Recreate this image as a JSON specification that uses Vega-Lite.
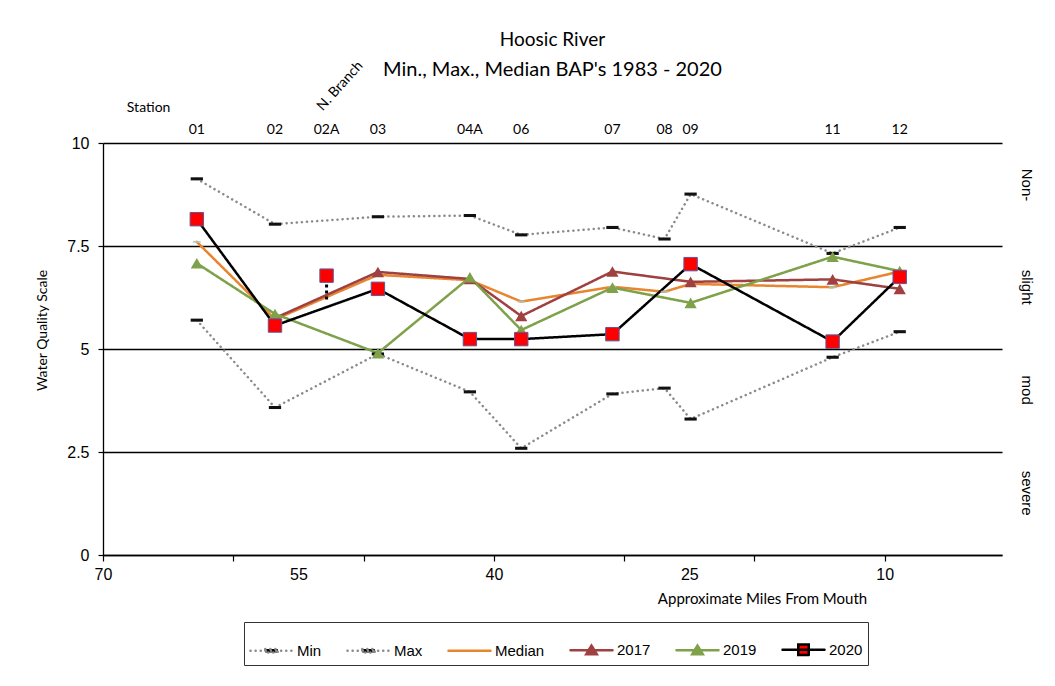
{
  "$schema": "https://vega.github.io/schema/vega-lite/v6.json",
  "width": 899,
  "height": 412,
  "autosize": {"type": "none"},
  "padding": {"left": 103, "top": 143, "right": 53, "bottom": 131},
  "background": "white",
  "config": {"view": {"stroke": null}},
  "title": {
    "text": "Hoosic River",
    "subtitle": "Min., Max., Median BAP's 1983 - 2020",
    "font": "Lato", "fontSize": 19, "fontWeight": "normal", "color": "black",
    "subtitleFont": "Lato", "subtitleFontSize": 20, "subtitleColor": "black",
    "anchor": "middle", "frame": "group", "offset": -21, "subtitlePadding": 10
  },
  "datasets": {
    "vals": [
      {"station": "01", "mile": 62.8, "series": "Min", "value": 5.70},
      {"station": "02", "mile": 56.8, "series": "Min", "value": 3.58},
      {"station": "03", "mile": 48.9, "series": "Min", "value": 4.88},
      {"station": "04A", "mile": 41.84, "series": "Min", "value": 3.96},
      {"station": "06", "mile": 37.9, "series": "Min", "value": 2.59},
      {"station": "07", "mile": 30.9, "series": "Min", "value": 3.91},
      {"station": "08", "mile": 26.9, "series": "Min", "value": 4.05},
      {"station": "09", "mile": 24.9, "series": "Min", "value": 3.30},
      {"station": "11", "mile": 14.0, "series": "Min", "value": 4.80},
      {"station": "12", "mile": 8.85, "series": "Min", "value": 5.42},
      {"station": "01", "mile": 62.8, "series": "Max", "value": 9.13},
      {"station": "02", "mile": 56.8, "series": "Max", "value": 8.03},
      {"station": "03", "mile": 48.9, "series": "Max", "value": 8.21},
      {"station": "04A", "mile": 41.84, "series": "Max", "value": 8.24},
      {"station": "06", "mile": 37.9, "series": "Max", "value": 7.77},
      {"station": "07", "mile": 30.9, "series": "Max", "value": 7.95},
      {"station": "08", "mile": 26.9, "series": "Max", "value": 7.67},
      {"station": "09", "mile": 24.9, "series": "Max", "value": 8.76},
      {"station": "11", "mile": 14.0, "series": "Max", "value": 7.32},
      {"station": "12", "mile": 8.85, "series": "Max", "value": 7.95},
      {"station": "01", "mile": 62.8, "series": "Median", "value": 7.60},
      {"station": "02", "mile": 56.8, "series": "Median", "value": 5.72},
      {"station": "03", "mile": 48.9, "series": "Median", "value": 6.80},
      {"station": "04A", "mile": 41.84, "series": "Median", "value": 6.67},
      {"station": "06", "mile": 37.9, "series": "Median", "value": 6.15},
      {"station": "07", "mile": 30.9, "series": "Median", "value": 6.51},
      {"station": "08", "mile": 26.9, "series": "Median", "value": 6.39},
      {"station": "09", "mile": 24.9, "series": "Median", "value": 6.58},
      {"station": "11", "mile": 14.0, "series": "Median", "value": 6.50},
      {"station": "12", "mile": 8.85, "series": "Median", "value": 6.88},
      {"station": "02", "mile": 56.8, "series": "2017", "value": 5.75},
      {"station": "03", "mile": 48.9, "series": "2017", "value": 6.87},
      {"station": "04A", "mile": 41.84, "series": "2017", "value": 6.70},
      {"station": "06", "mile": 37.9, "series": "2017", "value": 5.80},
      {"station": "07", "mile": 30.9, "series": "2017", "value": 6.88},
      {"station": "09", "mile": 24.9, "series": "2017", "value": 6.63},
      {"station": "11", "mile": 14.0, "series": "2017", "value": 6.69},
      {"station": "12", "mile": 8.85, "series": "2017", "value": 6.46},
      {"station": "01", "mile": 62.8, "series": "2019", "value": 7.08},
      {"station": "02", "mile": 56.8, "series": "2019", "value": 5.85},
      {"station": "03", "mile": 48.9, "series": "2019", "value": 4.90},
      {"station": "04A", "mile": 41.84, "series": "2019", "value": 6.74},
      {"station": "06", "mile": 37.9, "series": "2019", "value": 5.46},
      {"station": "07", "mile": 30.9, "series": "2019", "value": 6.49},
      {"station": "09", "mile": 24.9, "series": "2019", "value": 6.12},
      {"station": "11", "mile": 14.0, "series": "2019", "value": 7.24},
      {"station": "12", "mile": 8.85, "series": "2019", "value": 6.89},
      {"station": "01", "mile": 62.8, "series": "2020", "value": 8.15},
      {"station": "02", "mile": 56.8, "series": "2020", "value": 5.57},
      {"station": "03", "mile": 48.9, "series": "2020", "value": 6.46},
      {"station": "04A", "mile": 41.84, "series": "2020", "value": 5.24},
      {"station": "06", "mile": 37.9, "series": "2020", "value": 5.24},
      {"station": "07", "mile": 30.9, "series": "2020", "value": 5.36},
      {"station": "09", "mile": 24.9, "series": "2020", "value": 7.06},
      {"station": "11", "mile": 14.0, "series": "2020", "value": 5.18},
      {"station": "12", "mile": 8.85, "series": "2020", "value": 6.75}
    ],
    "nbranch": [
      {"station": "02A", "mile": 52.84, "low": 6.2, "high": 6.78, "value2020": 6.78}
    ],
    "stations": [
      {"station": "01", "mile": 62.8},
      {"station": "02", "mile": 56.8},
      {"station": "02A", "mile": 52.84},
      {"station": "03", "mile": 48.9},
      {"station": "04A", "mile": 41.84},
      {"station": "06", "mile": 37.9},
      {"station": "07", "mile": 30.9},
      {"station": "08", "mile": 26.9},
      {"station": "09", "mile": 24.9},
      {"station": "11", "mile": 14.0},
      {"station": "12", "mile": 8.85}
    ],
    "bands": [
      {"label": "Non-", "level": 8.98},
      {"label": "slight", "level": 6.5},
      {"label": "mod", "level": 4.0},
      {"label": "severe", "level": 1.5}
    ]
  },
  "layer": [
    {
      "data": {"name": "vals"},
      "mark": {"type": "line", "strokeCap": "round", "strokeJoin": "round"},
      "encoding": {
        "x": {
          "field": "mile", "type": "quantitative",
          "scale": {"domain": [70, 1], "nice": false, "zero": false},
          "axis": {
            "values": [70, 60, 55, 50, 40, 30, 25, 20, 10],
            "labelExpr": "indexof([70, 55, 40, 25, 10], datum.value) >= 0 ? datum.label : ''",
            "tickColor": {"condition": {"test": "datum.value == 55 || datum.value == 25", "value": "transparent"}, "value": "black"},
            "tickSize": 6, "tickWidth": 1.2,
            "domainColor": "black", "domainWidth": 1.5,
            "grid": false, "labelFont": "Liberation Sans", "labelFontSize": 16, "labelColor": "black",
            "labelPadding": 5, "labelOverlap": false, "labelBound": false, "labelFlush": false,
            "title": "Approximate Miles From Mouth", "titleFont": "Lato", "titleFontSize": 15,
            "titleFontWeight": "normal", "titleColor": "black",
            "titleX": 659, "titleY": 43, "titleAnchor": "middle", "titleAlign": "center", "titleBaseline": "middle"
          }
        },
        "y": {
          "field": "value", "type": "quantitative",
          "scale": {"domain": [0, 10], "nice": false},
          "axis": {
            "values": [0, 2.5, 5, 7.5, 10], "format": ".1~f",
            "grid": true, "gridColor": "black", "gridWidth": 1.3, "gridOpacity": 1,
            "domainColor": "black", "domainWidth": 1.3,
            "tickColor": "black", "tickSize": 5, "tickWidth": 1.2,
            "labelFont": "Liberation Sans", "labelFontSize": 16, "labelColor": "black", "labelPadding": 9,
            "labelFlush": false, "labelBound": false,
            "title": "Water Quality Scale", "titleFont": "Lato", "titleFontSize": 14,
            "titleFontWeight": "normal", "titleColor": "black",
            "titleX": -61, "titleY": 187, "titleAngle": -90, "titleAlign": "center", "titleBaseline": "middle"
          }
        },
        "detail": {"field": "series"},
        "color": {
          "field": "series", "type": "nominal",
          "scale": {
            "domain": ["Min", "Max", "Median", "2017", "2019", "2020"],
            "range": ["#8a8a8a", "#8a8a8a", "#e8852f", "#9e4140", "#7ea14a", "#000000"]
          },
          "legend": {
            "orient": "none", "legendX": 141, "legendY": 479,
            "direction": "horizontal", "columns": 6, "title": null,
            "strokeColor": "#333333", "fillColor": "white", "padding": 5,
            "labelFont": "Liberation Sans", "labelFontSize": 15, "labelColor": "black", "labelOffset": 3,
            "symbolSize": 1764, "columnPadding": 20,
            "encoding": {
              "symbols": {
                "shape": {"value": {"expr": "(datum.value === 'Min' || datum.value === 'Max') ? 'M-1,0H1M-0.3,-0.08H0.3V0.08H-0.3Z' : datum.value === 'Median' ? 'M-1,0H1' : datum.value === '2020' ? 'M-1,0H1M-0.25,-0.25H0.25V0.25H-0.25Z' : 'M-1,0H1M-0.25,0.18L0,-0.23L0.25,0.18Z'"}},
                "fill": {"value": {"expr": "datum.value === '2020' ? '#ff0000' : datum.value === '2017' ? '#9e4140' : datum.value === '2019' ? '#7ea14a' : datum.value === 'Median' ? 'transparent' : '#000000'"}},
                "fillOpacity": {"value": 1},
                "strokeDash": {"value": {"expr": "(datum.value === 'Min' || datum.value === 'Max') ? [0.1, 5] : [1, 0]"}},
                "strokeWidth": {"value": {"expr": "(datum.value === 'Min' || datum.value === 'Max') ? 2.5 : datum.value === 'Median' ? 2.5 : 3"}},
                "strokeCap": {"value": "round"}
              }
            }
          }
        },
        "strokeWidth": {
          "field": "series", "type": "nominal",
          "scale": {"domain": ["Min", "Max", "Median", "2017", "2019", "2020"], "range": [2.5, 2.5, 2.2, 3.2, 3.2, 3.2]},
          "legend": null
        },
        "strokeDash": {
          "field": "series", "type": "nominal",
          "scale": {"domain": ["Min", "Max", "Median", "2017", "2019", "2020"], "range": [[0.1, 5], [0.1, 5], [1, 0], [1, 0], [1, 0], [1, 0]]},
          "legend": null
        }
      }
    },
    {
      "data": {"name": "vals"},
      "transform": [{"filter": "datum.series === 'Min' || datum.series === 'Max'"}],
      "mark": {"type": "point", "shape": "M-1,-0.25H1V0.25H-1Z", "size": 150, "filled": true, "color": "#111111", "opacity": 1},
      "encoding": {
        "x": {"field": "mile", "type": "quantitative"},
        "y": {"field": "value", "type": "quantitative"}
      }
    },
    {
      "data": {"name": "vals"},
      "transform": [{"filter": "datum.series === 'Median'"}],
      "mark": {"type": "point", "shape": "M-1,-0.25H1V0.25H-1Z", "size": 60, "filled": true, "color": "#a9c8c0", "opacity": 0.8},
      "encoding": {
        "x": {"field": "mile", "type": "quantitative"},
        "y": {"field": "value", "type": "quantitative"}
      }
    },
    {
      "data": {"name": "vals"},
      "transform": [{"filter": "datum.series === '2017'"}],
      "mark": {"type": "point", "shape": "triangle-up", "size": 150, "filled": true, "color": "#9e4140", "opacity": 1},
      "encoding": {
        "x": {"field": "mile", "type": "quantitative"},
        "y": {"field": "value", "type": "quantitative"}
      }
    },
    {
      "data": {"name": "vals"},
      "transform": [{"filter": "datum.series === '2019'"}],
      "mark": {"type": "point", "shape": "triangle-up", "size": 150, "filled": true, "color": "#7ea14a", "opacity": 1},
      "encoding": {
        "x": {"field": "mile", "type": "quantitative"},
        "y": {"field": "value", "type": "quantitative"}
      }
    },
    {
      "data": {"name": "nbranch"},
      "mark": {"type": "rule", "color": "#000000", "strokeWidth": 3, "strokeDash": [3, 3]},
      "encoding": {
        "x": {"field": "mile", "type": "quantitative"},
        "y": {"field": "low", "type": "quantitative"},
        "y2": {"field": "high"}
      }
    },
    {
      "data": {"name": "vals"},
      "transform": [{"filter": "datum.series === '2020'"}],
      "mark": {"type": "point", "shape": "square", "size": 180, "filled": true, "fill": "#ff0000", "stroke": "#5b5a9a", "strokeWidth": 1, "opacity": 1},
      "encoding": {
        "x": {"field": "mile", "type": "quantitative"},
        "y": {"field": "value", "type": "quantitative"}
      }
    },
    {
      "data": {"name": "nbranch"},
      "mark": {"type": "point", "shape": "square", "size": 180, "filled": true, "fill": "#ff0000", "stroke": "#5b5a9a", "strokeWidth": 1, "opacity": 1},
      "encoding": {
        "x": {"field": "mile", "type": "quantitative"},
        "y": {"field": "value2020", "type": "quantitative"}
      }
    },
    {
      "data": {"name": "stations"},
      "mark": {"type": "text", "font": "Lato", "fontSize": 14, "color": "black", "baseline": "middle", "align": "center"},
      "encoding": {
        "x": {"field": "mile", "type": "quantitative"},
        "y": {"datum": 10.32, "type": "quantitative"},
        "text": {"field": "station"}
      }
    },
    {
      "data": {"values": [{"t": "Station"}]},
      "mark": {"type": "text", "font": "Lato", "fontSize": 14, "color": "black", "baseline": "middle", "align": "center"},
      "encoding": {
        "x": {"datum": 66.5, "type": "quantitative"},
        "y": {"datum": 10.85, "type": "quantitative"},
        "text": {"field": "t"}
      }
    },
    {
      "data": {"values": [{"t": "N. Branch"}]},
      "mark": {"type": "text", "font": "Lato", "fontSize": 14, "color": "black", "baseline": "middle", "align": "center", "angle": -48},
      "encoding": {
        "x": {"datum": 51.8, "type": "quantitative"},
        "y": {"datum": 11.38, "type": "quantitative"},
        "text": {"field": "t"}
      }
    },
    {
      "data": {"name": "bands"},
      "mark": {"type": "text", "font": "Liberation Sans", "fontSize": 15, "color": "black", "baseline": "middle", "align": "center", "angle": 90},
      "encoding": {
        "x": {"datum": -0.92, "type": "quantitative"},
        "y": {"field": "level", "type": "quantitative"},
        "text": {"field": "label"}
      }
    }
  ]
}
